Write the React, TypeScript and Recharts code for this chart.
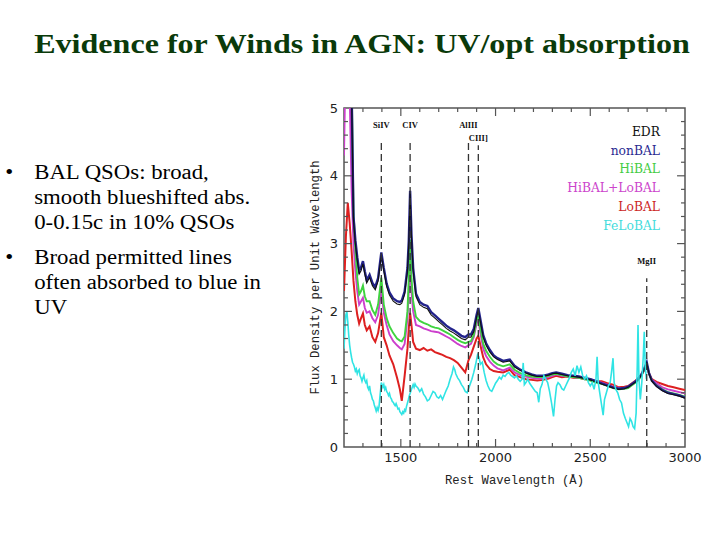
import React from 'react';
import { LineChart, Line, XAxis, YAxis, ReferenceLine, ReferenceArea, Legend } from 'recharts';

// Rest wavelength grid (Å) shared by the composite spectra
const wavelengths = [
  1200, 1210, 1220, 1230, 1240, 1250, 1260, 1270, 1280, 1290,
  1300, 1310, 1320, 1335, 1350, 1365, 1380, 1397, 1410, 1425,
  1440, 1460, 1480, 1495, 1505, 1520, 1535, 1542, 1549, 1556,
  1565, 1580, 1600, 1620, 1640, 1660, 1680, 1700, 1720, 1740,
  1760, 1780, 1800, 1820, 1840, 1857, 1870, 1885, 1900, 1909,
  1920, 1935, 1950, 1970, 1990, 2010, 2040, 2075, 2100, 2130,
  2160, 2190, 2220, 2250, 2280, 2300, 2320, 2350, 2380, 2410,
  2440, 2470, 2500, 2530, 2560, 2590, 2620, 2650, 2680, 2700,
  2720, 2740, 2755, 2770, 2785, 2798, 2810, 2825, 2850, 2880,
  2910, 2940, 2970, 3000,
];

const edr = [
  5.2, 7.0, 8.0, 6.5, 5.2, 3.35, 3.0, 2.75, 2.55, 2.6,
  2.7, 2.55, 2.42, 2.5, 2.38, 2.32, 2.45, 2.83, 2.6, 2.37,
  2.24, 2.15, 2.11, 2.1, 2.12, 2.25, 2.6, 3.0, 3.75, 3.1,
  2.6, 2.22, 2.1, 2.06, 2.04, 1.95, 1.9, 1.85, 1.8, 1.75,
  1.71, 1.68, 1.64, 1.6, 1.58, 1.62, 1.62, 1.7, 1.92, 2.02,
  1.85, 1.62, 1.5, 1.4, 1.33, 1.29, 1.25, 1.27, 1.18, 1.13,
  1.09, 1.06, 1.04, 1.04, 1.06, 1.08, 1.09, 1.07, 1.05, 1.04,
  1.03, 1.01, 0.99, 0.96, 0.93, 0.9, 0.87, 0.85, 0.86, 0.88,
  0.92, 0.96, 1.0, 1.06, 1.15, 1.24, 1.08, 0.97, 0.89, 0.83,
  0.79, 0.77, 0.75, 0.72,
];

const nonBAL = [
  5.3, 7.1, 8.1, 6.6, 5.3, 3.4, 3.05, 2.8, 2.6, 2.65,
  2.74, 2.59, 2.46, 2.54, 2.42, 2.36, 2.49, 2.87, 2.64, 2.41,
  2.28, 2.19, 2.15, 2.14, 2.16, 2.29, 2.64, 3.04, 3.78, 3.14,
  2.64, 2.26, 2.14, 2.1, 2.08, 1.99, 1.94, 1.89, 1.84, 1.79,
  1.75, 1.72, 1.68, 1.64, 1.62, 1.66, 1.66, 1.74, 1.95, 2.05,
  1.88, 1.65, 1.53, 1.43, 1.35, 1.31, 1.27, 1.29, 1.2, 1.14,
  1.1, 1.07, 1.05, 1.05, 1.07, 1.09, 1.1, 1.08, 1.06, 1.05,
  1.04, 1.02, 1.0, 0.97, 0.94, 0.91, 0.88, 0.86, 0.87, 0.89,
  0.93, 0.97, 1.01, 1.07, 1.16, 1.25, 1.09, 0.98, 0.9, 0.84,
  0.8, 0.78, 0.76, 0.73,
];

const hiBAL = [
  5.5, 7.0, 8.0, 7.0, 5.5, 3.5, 2.9, 2.5, 2.25, 2.3,
  2.38, 2.22, 2.15, 2.15, 2.02, 1.95, 2.1, 2.5, 2.1, 1.9,
  1.78, 1.68, 1.6, 1.57, 1.56, 1.63, 2.0, 2.5, 3.06, 2.5,
  2.15, 1.92, 1.86, 1.83, 1.81, 1.78, 1.76, 1.75, 1.72, 1.69,
  1.66, 1.62, 1.58, 1.55, 1.53, 1.55, 1.56, 1.65, 1.87, 1.94,
  1.75, 1.52, 1.42, 1.33, 1.26, 1.22, 1.19, 1.22, 1.14, 1.09,
  1.06, 1.04, 1.03, 1.03, 1.05, 1.07, 1.08, 1.06, 1.04, 1.03,
  1.02, 1.0, 0.98, 0.95, 0.93, 0.9, 0.87, 0.85, 0.86, 0.87,
  0.91, 0.95, 0.99, 1.05, 1.14, 1.22, 1.08, 0.98, 0.91, 0.85,
  0.81, 0.79, 0.77, 0.74,
];

const hiLoBAL = [
  4.3, 6.0, 7.0, 5.2, 3.8, 3.0, 2.6, 2.3, 2.1, 2.15,
  2.2, 2.05, 1.98, 2.0, 1.9, 1.84, 1.95, 2.33, 1.98, 1.8,
  1.66, 1.56, 1.5, 1.46, 1.44, 1.52, 1.9, 2.3, 2.72, 2.3,
  2.0, 1.8, 1.78, 1.75, 1.73, 1.71, 1.7, 1.69, 1.66, 1.63,
  1.6, 1.56, 1.52, 1.49, 1.47, 1.5, 1.52, 1.62, 1.82, 1.88,
  1.68, 1.45, 1.34, 1.26, 1.2, 1.16, 1.13, 1.17, 1.1, 1.06,
  1.04, 1.02, 1.01, 1.01, 1.03, 1.05, 1.07, 1.05, 1.04, 1.03,
  1.02, 1.01, 0.99, 0.97, 0.95, 0.92, 0.89, 0.87, 0.87, 0.89,
  0.93, 0.97, 1.01, 1.06, 1.14, 1.22, 1.08, 0.99, 0.94, 0.88,
  0.85, 0.83, 0.81, 0.79,
];

const loBAL = [
  2.3, 3.1, 3.6, 3.3, 2.9, 2.45, 2.15, 1.95, 1.82, 1.9,
  1.97, 1.8, 1.72, 1.78, 1.62, 1.55, 1.68, 1.98, 1.62, 1.5,
  1.35, 1.22, 1.02, 0.85, 0.68, 1.05, 1.45, 1.75, 1.98, 1.8,
  1.55, 1.45, 1.43, 1.46, 1.42, 1.44, 1.4, 1.38, 1.36, 1.33,
  1.31, 1.28, 1.24, 1.17, 1.1, 1.28, 1.36, 1.48, 1.6, 1.64,
  1.5, 1.32, 1.22, 1.15, 1.12, 1.11, 1.1, 1.14, 1.06, 1.03,
  1.0, 0.99, 0.98, 0.99, 1.01, 1.03, 1.05, 1.03, 1.04, 1.02,
  1.02, 1.0, 1.0, 0.97, 0.97, 0.94, 0.92, 0.88, 0.89, 0.9,
  0.94, 0.98, 1.02, 1.07, 1.13, 1.2, 1.09, 1.0, 0.96, 0.93,
  0.9, 0.88, 0.86, 0.84,
];

// FeLoBAL composite: [wavelength, flux], noisier and ends near MgII
const feLoBAL: [number, number][] = [
  [1200, 1.45], [1205, 1.75], [1210, 1.95], [1215, 2.0], [1220, 1.85], [1225, 1.65], [1230, 1.5], [1235, 1.4],
  [1240, 1.32], [1245, 1.25], [1250, 1.22], [1255, 1.18], [1260, 1.12], [1265, 1.15], [1270, 1.08], [1275, 1.12],
  [1280, 1.14], [1285, 1.05], [1290, 1.02], [1295, 0.97], [1300, 1.02], [1305, 1.06], [1310, 0.98], [1315, 0.95],
  [1320, 0.98], [1325, 0.88], [1330, 0.85], [1335, 0.9], [1340, 0.8], [1345, 0.76], [1350, 0.7], [1355, 0.68],
  [1360, 0.62], [1365, 0.58], [1370, 0.53], [1375, 0.58], [1380, 0.54], [1385, 0.6], [1390, 0.75], [1397, 0.95],
  [1405, 0.88], [1410, 0.92], [1415, 0.85], [1420, 0.88], [1425, 0.82], [1430, 0.8], [1435, 0.76], [1440, 0.79],
  [1445, 0.73], [1450, 0.71], [1455, 0.67], [1460, 0.66], [1465, 0.63], [1470, 0.61], [1475, 0.64], [1480, 0.6],
  [1485, 0.56], [1490, 0.57], [1495, 0.52], [1500, 0.5], [1505, 0.48], [1510, 0.52], [1515, 0.5], [1520, 0.55],
  [1525, 0.53], [1530, 0.6], [1535, 0.65], [1540, 0.7], [1545, 0.76], [1550, 0.8], [1555, 0.84], [1560, 0.88],
  [1565, 0.92], [1570, 0.88], [1575, 0.93], [1580, 0.9], [1590, 0.87], [1600, 0.82], [1610, 0.86], [1620, 0.78],
  [1630, 0.74], [1640, 0.68], [1650, 0.7], [1660, 0.76], [1670, 0.82], [1680, 0.8], [1690, 0.74], [1700, 0.72],
  [1710, 0.76], [1720, 0.7], [1730, 0.77], [1740, 0.84], [1750, 0.9], [1760, 1.0], [1770, 1.08], [1778, 1.18],
  [1785, 1.14], [1790, 1.08], [1800, 1.02], [1810, 0.98], [1820, 0.92], [1830, 0.88], [1840, 0.82], [1850, 0.8],
  [1857, 0.86], [1865, 0.92], [1875, 1.0], [1885, 1.1], [1895, 1.22], [1905, 1.36], [1912, 1.33], [1920, 1.22],
  [1930, 1.25], [1940, 1.1], [1950, 0.98], [1960, 0.9], [1970, 0.84], [1980, 0.82], [1990, 0.88], [2000, 0.94],
  [2010, 0.98], [2020, 1.03], [2030, 1.0], [2040, 1.06], [2050, 1.04], [2060, 1.08], [2070, 1.1], [2080, 1.06],
  [2090, 1.04], [2100, 1.02], [2110, 1.05], [2120, 1.0], [2130, 0.97], [2140, 1.0], [2146, 1.24], [2152, 0.92],
  [2160, 0.95], [2170, 1.0], [2180, 0.94], [2190, 0.9], [2200, 0.86], [2210, 0.82], [2220, 0.8], [2228, 0.66],
  [2236, 0.86], [2245, 0.92], [2255, 1.05], [2265, 1.0], [2275, 0.95], [2285, 0.82], [2295, 0.66], [2306, 0.45],
  [2314, 0.7], [2322, 0.9], [2330, 0.95], [2340, 0.92], [2350, 0.86], [2360, 0.84], [2370, 0.9], [2380, 0.96],
  [2390, 1.02], [2400, 1.1], [2410, 1.15], [2420, 1.05], [2430, 1.2], [2440, 1.1], [2450, 1.18], [2460, 1.05],
  [2470, 1.0], [2480, 1.05], [2490, 0.95], [2500, 0.9], [2510, 0.95], [2520, 0.85], [2530, 1.0], [2536, 1.33],
  [2542, 0.95], [2550, 0.8], [2558, 0.65], [2568, 0.47], [2575, 0.7], [2585, 0.8], [2595, 0.9], [2605, 0.95],
  [2612, 1.1], [2620, 1.31], [2626, 0.95], [2635, 0.85], [2645, 0.8], [2655, 0.7], [2665, 0.65], [2675, 0.5],
  [2685, 0.42], [2695, 0.35], [2702, 0.3], [2710, 0.42], [2718, 0.38], [2726, 0.3], [2734, 0.27], [2742, 0.5],
  [2748, 1.2], [2752, 1.8], [2757, 1.0], [2764, 0.7], [2772, 0.95], [2780, 1.35], [2785, 1.7], [2790, 1.2],
  [2796, 1.0],
];

const seriesNames = ['EDR', 'nonBAL', 'HiBAL', 'HiBAL+LoBAL', 'LoBAL', 'FeLoBAL'];
const seriesColors = ['#111111', '#23238c', '#3fd43f', '#cc3fcc', '#dd2020', '#30e4e4'];
const legendColors = ['#111111', '#2a2a92', '#44cc44', '#cc44cc', '#cc2626', '#44dcdc'];

// Emission line markers: name, rest wavelength, top of dashed line, label lift
const lineNames = ['SiIV', 'CIV', 'AlIII', 'CIII]', 'MgII'];
const lineWaves = [1397, 1549, 1857, 1909, 2798];
const lineTops = [4.5, 4.5, 4.5, 4.45, 2.49];
const lineLabelLift = [14, 14, 14, 4, 14];

const xTicks = [1500, 2000, 2500, 3000];
const yTicks = [0, 1, 2, 3, 4, 5];
const xMajorMarks = [1500, 2000, 2500];
const xMinorMarks = [1300, 1400, 1600, 1700, 1800, 1900, 2100, 2200, 2300, 2400, 2600, 2700, 2800, 2900];
const yMajorMarks = [1, 2, 3, 4];
const yMinorMarks = [0.2, 0.4, 0.6, 0.8, 1.2, 1.4, 1.6, 1.8, 2.2, 2.4, 2.6, 2.8, 3.2, 3.4, 3.6, 3.8, 4.2, 4.4, 4.6, 4.8];

const X_MIN = 1200;
const X_MAX = 3000;
const Y_MIN = 0;
const Y_MAX = 5;

const rows = wavelengths.map((w, i) => ({
  w,
  edr: edr[i],
  nonBAL: nonBAL[i],
  hiBAL: hiBAL[i],
  hiLoBAL: hiLoBAL[i],
  loBAL: loBAL[i],
}));
const feRows = feLoBAL.map(([w, f]) => ({ w, feLoBAL: f }));

const frameColor = '#555555';
const TICK_MAJOR_Y = 0.118;
const TICK_MINOR_Y = 0.059;
const TICK_MAJOR_X = 42;
const TICK_MINOR_X = 21;

const LegendContent = () => (
  <div style={{ textAlign: 'right', fontFamily: '"DejaVu Serif", serif', fontSize: 12.3, lineHeight: '18.7px' }}>
    {seriesNames.map((n, i) => (
      <div key={n} style={{ color: legendColors[i] }}>{n}</div>
    ))}
  </div>
);

const slideText = {
  fontFamily: '"Liberation Serif", "Times New Roman", serif',
  fontSize: 20,
  lineHeight: '25px',
  color: '#000',
  transform: 'scaleX(1.14)',
  transformOrigin: '0 0',
  whiteSpace: 'nowrap' as const,
};

export default function App() {
  const tickSegs: React.ReactNode[] = [];
  const pushX = (v: number, len: number, key: string) => {
    tickSegs.push(
      <ReferenceLine key={key + 'b'} segment={[{ x: v, y: Y_MIN }, { x: v, y: Y_MIN + len }]} stroke={frameColor} strokeWidth={1.2} ifOverflow="visible" />,
      <ReferenceLine key={key + 't'} segment={[{ x: v, y: Y_MAX }, { x: v, y: Y_MAX - len }]} stroke={frameColor} strokeWidth={1.2} ifOverflow="visible" />
    );
  };
  const pushY = (v: number, len: number, key: string) => {
    tickSegs.push(
      <ReferenceLine key={key + 'l'} segment={[{ x: X_MIN, y: v }, { x: X_MIN + len, y: v }]} stroke={frameColor} strokeWidth={1.2} ifOverflow="visible" />,
      <ReferenceLine key={key + 'r'} segment={[{ x: X_MAX, y: v }, { x: X_MAX - len, y: v }]} stroke={frameColor} strokeWidth={1.2} ifOverflow="visible" />
    );
  };
  xMajorMarks.forEach((v) => pushX(v, TICK_MAJOR_Y, 'xM' + v));
  xMinorMarks.forEach((v) => pushX(v, TICK_MINOR_Y, 'xm' + v));
  yMajorMarks.forEach((v) => pushY(v, TICK_MAJOR_X, 'yM' + v));
  yMinorMarks.forEach((v) => pushY(v, TICK_MINOR_X, 'ym' + v));

  const tickStyle = { fontSize: 13, fontFamily: '"DejaVu Sans", sans-serif', fill: '#222' };
  const labelStyle = { fontSize: 12.2, fontFamily: '"Liberation Mono", monospace', fill: '#222' };

  return (
    <div style={{ position: 'absolute', left: 0, top: 0, width: 720, height: 540, background: '#fff', overflow: 'hidden' }}>
      <div
        style={{
          position: 'absolute', left: 0, top: 28, width: 724, textAlign: 'center',
          fontFamily: '"Liberation Serif", "Times New Roman", serif', fontWeight: 'bold',
          fontSize: 28, lineHeight: '32px', color: '#0a3a0a',
          transform: 'scaleX(1.145)', transformOrigin: '362px 0',
        }}
      >
        Evidence for Winds in AGN: UV/opt absorption
      </div>

      <div style={{ position: 'absolute', left: 0, top: 160, ...slideText }}>
        <div style={{ position: 'relative', paddingLeft: 30 }}>
          <span style={{ position: 'absolute', left: 4.5 }}>•</span>
          <div>BAL QSOs: broad,</div>
          <div>smooth blueshifted abs.</div>
          <div>0-0.15c in 10% QSOs</div>
        </div>
      </div>
      <div style={{ position: 'absolute', left: 0, top: 245, ...slideText }}>
        <div style={{ position: 'relative', paddingLeft: 30 }}>
          <span style={{ position: 'absolute', left: 4.5 }}>•</span>
          <div>Broad permitted lines</div>
          <div>often absorbed to blue in</div>
          <div>UV</div>
        </div>
      </div>

      <div style={{ position: 'absolute', left: 290, top: 95 }}>
        <LineChart width={425} height={400} data={rows} margin={{ top: 13, right: 30, left: 0, bottom: 0 }}>
          <XAxis
            dataKey="w" type="number" domain={[X_MIN, X_MAX]} ticks={xTicks} allowDataOverflow
            axisLine={false} tickLine={false} tickSize={4} tickMargin={2} height={48} tick={tickStyle}
            label={{ value: 'Rest Wavelength (Å)', position: 'insideBottom', offset: 11, style: labelStyle }}
          />
          <YAxis
            type="number" domain={[Y_MIN, Y_MAX]} ticks={yTicks} allowDataOverflow
            axisLine={false} tickLine={false} tickSize={4} tickMargin={2} width={54} tick={tickStyle}
            label={{ value: 'Flux Density per Unit Wavelength', angle: -90, position: 'insideLeft', offset: 25, style: { ...labelStyle, textAnchor: 'middle' } }}
          />
          <Legend layout="vertical" align="center" verticalAlign="middle" content={LegendContent}
            wrapperStyle={{ top: 28, right: 55, left: 'auto', bottom: 'auto', width: 'auto', height: 'auto' }} />
          <Line dataKey="loBAL" name="LoBAL" stroke={seriesColors[4]} strokeWidth={2} dot={false} isAnimationActive={false} />
          <Line dataKey="hiLoBAL" name="HiBAL+LoBAL" stroke={seriesColors[3]} strokeWidth={1.9} dot={false} isAnimationActive={false} />
          <Line dataKey="hiBAL" name="HiBAL" stroke={seriesColors[2]} strokeWidth={1.9} dot={false} isAnimationActive={false} />
          <Line dataKey="nonBAL" name="nonBAL" stroke={seriesColors[1]} strokeWidth={2.4} dot={false} isAnimationActive={false} />
          <Line dataKey="edr" name="EDR" stroke={seriesColors[0]} strokeWidth={1.1} dot={false} isAnimationActive={false} />
          <Line data={feRows} dataKey="feLoBAL" name="FeLoBAL" stroke={seriesColors[5]} strokeWidth={1.6} dot={false} isAnimationActive={false} />
          <ReferenceArea x1={X_MIN} x2={X_MAX} y1={Y_MIN} y2={Y_MAX} fill="none" fillOpacity={0} stroke={frameColor} strokeWidth={1.5} ifOverflow="visible" />
          {tickSegs}
          {lineNames.map((n, i) => (
            <ReferenceLine
              key={n}
              segment={[{ x: lineWaves[i], y: 0 }, { x: lineWaves[i], y: lineTops[i] }]}
              stroke="#333" strokeWidth={1.3} strokeDasharray="7 4" ifOverflow="visible"
              label={{ value: n, position: 'top', offset: lineLabelLift[i], fill: '#111', fontSize: 8.5, fontWeight: 'bold', fontFamily: '"Liberation Serif", serif' }}
            />
          ))}
        </LineChart>
      </div>
    </div>
  );
}
